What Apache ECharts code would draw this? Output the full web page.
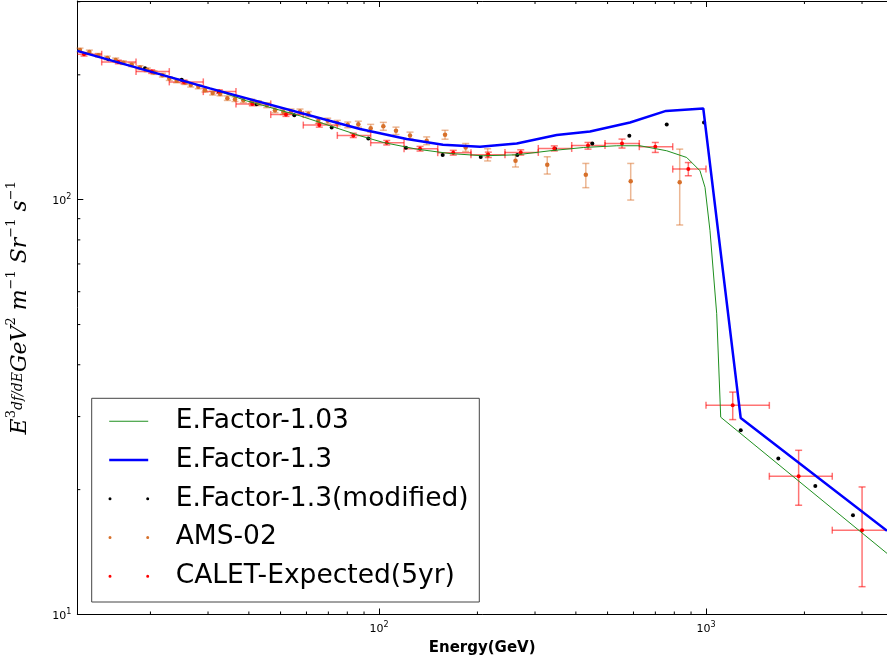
<!DOCTYPE html>
<html>
<head>
<meta charset="utf-8">
<script src="https://cdn.jsdelivr.net/npm/echarts@6/dist/echarts.min.js"></script>
<style>
html, body { margin: 0; padding: 0; background: #fff; }
#main { width: 887px; height: 662px; }
</style>
</head>
<body>
<div id="main"></div>
<script>
// axis ranges (GeV, flux)
var xMin = 11.95, xMax = 3577;
var yMin = 10, yMax = 301.3;

// E.Factor-1.03 model
var f103Energy = [11.95, 30.4, 39.4, 57.3, 87.5, 103.1, 130.4, 164.9, 208.4, 263.8, 333.4, 421.5, 533.4, 628.4, 758.4, 873.0, 958.7, 993.0, 1028.5, 1078.2, 1109.1, 3577];
var f103Flux = [228.4, 185.7, 173.1, 159.3, 142.6, 137.4, 132.4, 129.2, 127.6, 128.3, 131.2, 133.6, 134.9, 134.9, 131.2, 126.4, 117.4, 107.1, 84.2, 53.1, 29.9, 14.04];

// E.Factor-1.3 model
var f13Energy = [11.95, 30.4, 87.5, 121.5, 156.9, 203.7, 263.8, 349.5, 441.8, 585.7, 754.6, 981.1, 1277, 3577];
var f13Flux = [228.4, 185.5, 148.0, 140.0, 135.7, 134.2, 136.6, 143.2, 146.0, 153.5, 163.7, 165.9, 29.76, 15.91];

// E.Factor-1.3(modified) points
var modEnergy = [14.87, 19.25, 24.92, 32.41, 42.27, 55.08, 71.67, 92.75, 120.9, 156.6, 204.7, 264.8, 345.3, 449.0, 582.8, 758.4, 986.1, 1277, 1664, 2159, 2815];
var modFlux = [218.1, 207.5, 194.5, 182.0, 169.9, 159.9, 149.3, 140.5, 133.4, 128.1, 126.7, 128.1, 132.7, 136.6, 142.6, 151.8, 153.5, 27.80, 23.76, 20.42, 17.36];

// AMS-02
var amsEnergy = [12.18, 13.01, 13.86, 14.76, 15.66, 16.52, 17.53, 18.58, 19.56, 20.51, 21.75, 22.84, 24.06, 25.51, 26.56, 28.02, 29.37, 31.00, 32.65, 34.37, 36.27, 38.46, 40.81, 42.75, 45.36, 48.08, 50.98, 53.82, 57.33, 60.78, 65.23, 69.67, 74.57, 80.24, 86.46, 94.32, 103.1, 112.7, 124.4, 139.9, 159.2, 184.1, 214.9, 261.5, 327.0, 429.0, 588.5, 831.0];
var amsFlux = [229.6, 227.1, 222.9, 219.6, 217.3, 214.0, 211.4, 208.2, 205.6, 202.5, 199.6, 195.9, 193.4, 191.6, 188.9, 187.1, 183.7, 180.7, 179.9, 175.7, 174.7, 173.6, 172.4, 170.9, 169.0, 164.4, 162.8, 163.1, 163.1, 160.8, 154.9, 154.9, 153.0, 151.5, 152.1, 148.6, 150.3, 146.6, 142.9, 138.7, 143.4, 133.6, 128.3, 124.1, 121.4, 114.8, 110.8, 110.1];
var amsLow = [227.3, 224.8, 220.7, 217.4, 215.1, 211.9, 209.3, 206.1, 203.5, 200.5, 197.6, 193.9, 191.4, 189.6, 186.9, 185.1, 181.8, 178.8, 178.0, 173.5, 172.5, 171.4, 170.2, 168.6, 166.7, 162.1, 160.5, 160.8, 160.8, 158.5, 152.6, 152.6, 150.7, 149.1, 149.6, 145.4, 147.0, 143.6, 140.3, 135.7, 139.9, 130.7, 124.0, 119.9, 115.3, 106.9, 99.8, 86.9];
var amsHigh = [231.9, 229.4, 225.1, 221.8, 219.5, 216.1, 213.5, 210.3, 207.7, 204.5, 201.6, 197.9, 195.4, 193.6, 190.9, 189.1, 185.6, 182.6, 181.8, 177.9, 176.9, 175.8, 174.6, 173.2, 171.3, 166.7, 165.1, 165.4, 165.4, 163.1, 157.2, 157.2, 155.3, 153.9, 154.6, 151.9, 153.6, 149.6, 145.5, 141.7, 147.0, 136.6, 132.7, 128.3, 126.9, 122.3, 122.3, 132.4];

// CALET-Expected(5yr)
var calEnergy = [12.53, 15.95, 20.18, 25.33, 32.48, 40.98, 51.95, 65.68, 83.44, 105.6, 133.5, 168.7, 215.9, 271.3, 343.6, 435.7, 553.5, 699.8, 883.0, 1207, 1920, 3001];
var calFlux = [224.2, 214.8, 203.6, 192.3, 182.2, 170.2, 160.4, 151.3, 142.9, 137.2, 132.7, 129.8, 128.3, 130.0, 132.9, 135.1, 136.6, 134.2, 118.5, 31.93, 21.54, 15.97];
var calELow = [11.21, 14.19, 18.07, 22.84, 29.02, 36.53, 46.66, 58.68, 74.57, 94.32, 119.3, 151.2, 191.1, 242.8, 307.0, 388.4, 491.1, 625.2, 791.1, 1000, 1562, 2433];
var calEHigh = [14.19, 18.07, 22.84, 29.02, 36.53, 46.66, 58.68, 74.57, 94.32, 119.3, 151.2, 191.1, 242.8, 307.0, 388.4, 491.1, 625.2, 791.1, 1000, 1562, 2433, 3784];
var calFLow = [222.0, 212.7, 201.6, 190.4, 180.4, 168.5, 158.8, 149.6, 141.2, 135.5, 131.0, 128.1, 126.4, 128.1, 131.1, 132.4, 133.2, 130.0, 114.2, 29.50, 18.34, 11.67];
var calFHigh = [226.4, 216.9, 205.6, 194.2, 184.0, 171.9, 162.0, 153.0, 144.6, 138.9, 134.4, 131.5, 130.2, 131.9, 134.8, 137.4, 140.0, 137.4, 122.9, 34.37, 24.88, 20.30];

// minor tick values
var minorX = [20, 30, 40, 50, 60, 70, 80, 90, 200, 300, 400, 500, 600, 700, 800, 900, 2000, 3000];
var minorY = [20, 30, 40, 50, 60, 70, 80, 90, 200, 300];

function pairs(xs, ys) {
    return xs.map(function (x, i) { return [x, ys[i]]; });
}

function powLabel(v) {
    var l = Math.log(v) / Math.LN10;
    var e = Math.round(l);
    if (Math.abs(l - e) > 1e-6) return '';
    return '{b|10}{s|' + e + '}';
}

var labelRich = {
    b: { fontSize: 11, fontFamily: 'DejaVu Sans', color: '#000', lineHeight: 14, verticalAlign: 'bottom' },
    s: { fontSize: 8, fontFamily: 'DejaVu Sans', color: '#000', lineHeight: 14, verticalAlign: 'top' }
};

function renderMinorX(params, api) {
    var cs = params.coordSys;
    var x = api.coord([api.value(0), api.value(1)])[0];
    var yb = cs.y + cs.height, yt = cs.y;
    var st = { stroke: '#000', lineWidth: 1 };
    return { type: 'group', children: [
        { type: 'line', shape: { x1: x, y1: yb, x2: x, y2: yb - 3 }, style: st },
        { type: 'line', shape: { x1: x, y1: yt, x2: x, y2: yt + 3 }, style: st }
    ] };
}

function renderMinorY(params, api) {
    var cs = params.coordSys;
    var y = api.coord([api.value(0), api.value(1)])[1];
    var st = { stroke: '#000', lineWidth: 1 };
    return { type: 'line', shape: { x1: cs.x, y1: y, x2: cs.x + 3, y2: y }, style: st };
}

function renderAmsBar(params, api) {
    var e = api.value(0);
    var lo = api.coord([e, api.value(1)]);
    var hi = api.coord([e, api.value(2)]);
    var c = 3.5;
    var st = { stroke: 'rgba(218,112,42,0.5)', lineWidth: 1.5 };
    return { type: 'group', children: [
        { type: 'line', shape: { x1: lo[0], y1: lo[1], x2: hi[0], y2: hi[1] }, style: st },
        { type: 'line', shape: { x1: lo[0] - c, y1: lo[1], x2: lo[0] + c, y2: lo[1] }, style: st },
        { type: 'line', shape: { x1: hi[0] - c, y1: hi[1], x2: hi[0] + c, y2: hi[1] }, style: st }
    ] };
}

function renderCalBar(params, api) {
    var cs = params.coordSys;
    var e = api.value(0), f = api.value(1);
    var l = api.coord([api.value(2), f]);
    var r = api.coord([api.value(3), f]);
    var b = api.coord([e, api.value(4)]);
    var t = api.coord([e, api.value(5)]);
    var c = 3.5;
    var st = { stroke: 'rgba(255,0,0,0.55)', lineWidth: 1.5 };
    var xl = Math.max(l[0], cs.x);
    var kids = [
        { type: 'line', shape: { x1: xl, y1: l[1], x2: r[0], y2: r[1] }, style: st },
        { type: 'line', shape: { x1: r[0], y1: r[1] - c, x2: r[0], y2: r[1] + c }, style: st },
        { type: 'line', shape: { x1: b[0], y1: b[1], x2: t[0], y2: t[1] }, style: st },
        { type: 'line', shape: { x1: b[0] - c, y1: b[1], x2: b[0] + c, y2: b[1] }, style: st },
        { type: 'line', shape: { x1: t[0] - c, y1: t[1], x2: t[0] + c, y2: t[1] }, style: st }
    ];
    if (l[0] >= cs.x) {
        kids.push({ type: 'line', shape: { x1: l[0], y1: l[1] - c, x2: l[0], y2: l[1] + c }, style: st });
    }
    return { type: 'group', children: kids };
}

var amsBars = amsEnergy.map(function (e, i) { return [e, amsLow[i], amsHigh[i]]; });
var calBars = calEnergy.map(function (e, i) {
    return [e, calFlux[i], calELow[i], calEHigh[i], calFLow[i], calFHigh[i]];
});

var lineIcon = 'path://M0,0M62.5,6M1,2.5h39v1h-39z';
var thickIcon = 'path://M0,0M62.5,6M1,1.75h39v2.5h-39z';
var dotIcon = 'path://M0,0M62.5,6M0.3,3a1.5,1.5 0 1,0 3,0a1.5,1.5 0 1,0 -3,0zM38,3a1.5,1.5 0 1,0 3,0a1.5,1.5 0 1,0 -3,0z';

var tickStyle = { show: true, inside: true, length: 6, lineStyle: { color: '#000', width: 1 } };
var lineAxis = { show: true, lineStyle: { color: '#000', width: 1 } };

var chart = echarts.init(document.getElementById('main'));
chart.setOption({
    animation: false,
    backgroundColor: '#fff',
    grid: { left: 77.3, top: 1, right: 0, bottom: 47.5, outerBoundsMode: 'none', containLabel: false },
    legend: {
        orient: 'vertical',
        left: 91.7,
        top: 398.3,
        padding: [9.5, 10.6, 12.2, 16.5],
        itemGap: 11.75,
        itemWidth: 62.5,
        itemHeight: 6,
        backgroundColor: '#fff',
        borderColor: '#444',
        borderWidth: 1,
        borderRadius: 0,
        selectedMode: false,
        itemStyle: { borderWidth: 0 },
        textStyle: { fontFamily: 'DejaVu Sans', fontSize: 26.5, lineHeight: 26, color: '#000' },
        data: [
            { name: 'E.Factor-1.03', icon: lineIcon },
            { name: 'E.Factor-1.3', icon: thickIcon },
            { name: 'E.Factor-1.3(modified)', icon: dotIcon },
            { name: 'AMS-02', icon: dotIcon },
            { name: 'CALET-Expected(5yr)', icon: dotIcon }
        ]
    },
    xAxis: [{
        type: 'log',
        logBase: 10,
        min: xMin,
        max: xMax,
        name: 'Energy(GeV)',
        nameLocation: 'middle',
        nameGap: 26,
        nameMoveOverlap: false,
        nameTextStyle: { fontFamily: 'DejaVu Sans', fontWeight: 'bold', fontSize: 15, color: '#000' },
        axisLine: lineAxis,
        axisTick: tickStyle,
        splitLine: { show: false },
        axisLabel: { margin: 6, formatter: powLabel, rich: labelRich }
    }, {
        type: 'log',
        logBase: 10,
        position: 'top',
        min: xMin,
        max: xMax,
        axisLine: lineAxis,
        axisTick: tickStyle,
        splitLine: { show: false },
        axisLabel: { show: false }
    }],
    yAxis: [{
        type: 'log',
        logBase: 10,
        min: yMin,
        max: yMax,
        name: '{i|E}{s|3}{f|df/dE}{i|GeV}{s|2}{i| m}{s|\u22121}{i| Sr}{s|\u22121}{i| s}{s|\u22121}',
        nameLocation: 'middle',
        nameGap: 46,
        nameRotate: 90,
        nameMoveOverlap: false,
        nameTextStyle: {
            rich: {
                i: { fontFamily: 'DejaVu Serif', fontStyle: 'italic', fontSize: 22, color: '#000', lineHeight: 26, verticalAlign: 'bottom' },
                s: { fontFamily: 'DejaVu Serif', fontSize: 13, color: '#000', lineHeight: 26, verticalAlign: 'top' },
                f: { fontFamily: 'DejaVu Serif', fontStyle: 'italic', fontSize: 14, color: '#000', lineHeight: 26, verticalAlign: 'middle' }
            }
        },
        axisLine: lineAxis,
        axisTick: tickStyle,
        splitLine: { show: false },
        axisLabel: { margin: 6, formatter: powLabel, rich: labelRich }
    }],
    series: [{
        name: 'E.Factor-1.03',
        type: 'line',
        data: pairs(f103Energy, f103Flux),
        showSymbol: false,
        symbol: 'none',
        color: '#1f8f1f',
        itemStyle: { color: '#1f8f1f' },
        lineStyle: { color: '#1f8f1f', width: 1 }
    }, {
        name: 'E.Factor-1.3',
        type: 'line',
        data: pairs(f13Energy, f13Flux),
        showSymbol: false,
        symbol: 'none',
        color: '#0000ff',
        itemStyle: { color: '#0000ff' },
        lineStyle: { color: '#0000ff', width: 2.5 }
    }, {
        name: 'E.Factor-1.3(modified)',
        type: 'scatter',
        data: pairs(modEnergy, modFlux),
        symbolSize: 4,
        itemStyle: { color: '#000', opacity: 1 }
    }, {
        name: 'AMS-02 bars',
        type: 'custom',
        data: amsBars,
        encode: { x: 0, y: [1, 2] },
        renderItem: renderAmsBar
    }, {
        name: 'AMS-02',
        type: 'scatter',
        data: pairs(amsEnergy, amsFlux),
        symbolSize: 4.5,
        itemStyle: { color: '#d7702a', opacity: 1 }
    }, {
        name: 'CALET bars',
        type: 'custom',
        data: calBars,
        encode: { x: [0, 2, 3], y: [1, 4, 5] },
        renderItem: renderCalBar
    }, {
        name: 'CALET-Expected(5yr)',
        type: 'scatter',
        data: pairs(calEnergy, calFlux),
        symbolSize: 4,
        itemStyle: { color: '#ff0000', opacity: 1 }
    }, {
        name: 'minor x ticks',
        type: 'custom',
        data: minorX.map(function (v) { return [v, yMin]; }),
        encode: { x: 0, y: 1 },
        renderItem: renderMinorX,
        silent: true
    }, {
        name: 'minor y ticks',
        type: 'custom',
        data: minorY.map(function (v) { return [xMin, v]; }),
        encode: { x: 0, y: 1 },
        renderItem: renderMinorY,
        silent: true
    }]
});
</script>
</body>
</html>
